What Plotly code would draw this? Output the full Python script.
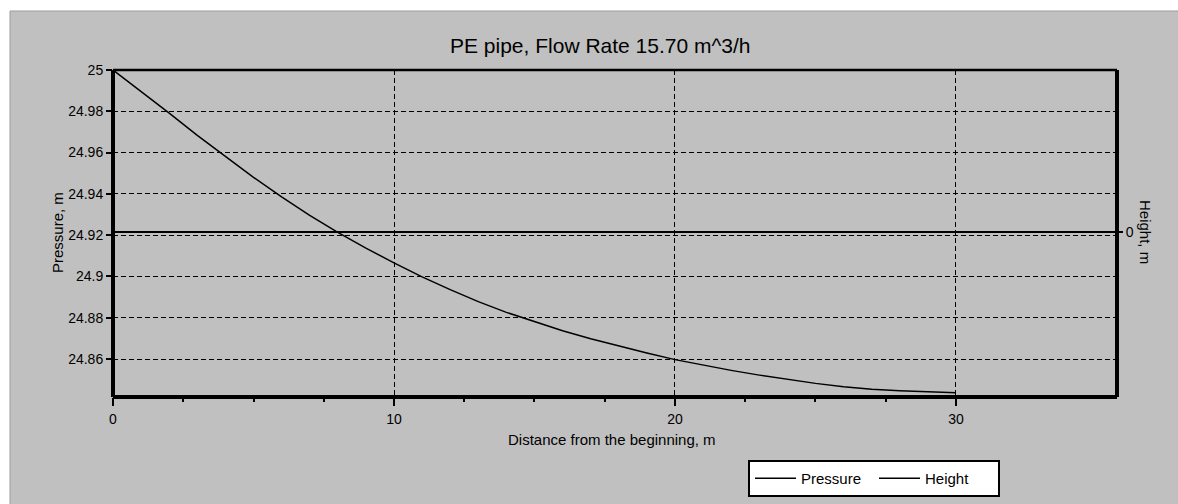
import plotly.graph_objects as go

# Pipe profile: distance along the pipe (m), pressure head (m), elevation (m)
distance = list(range(0, 31))
pressure = [
    25.0000, 24.9896, 24.9791, 24.9683, 24.9581, 24.9480, 24.9385, 24.9296,
    24.9213, 24.9137, 24.9066, 24.8998, 24.8936, 24.8878, 24.8826, 24.8780,
    24.8737, 24.8698, 24.8662, 24.8629, 24.8597, 24.8570, 24.8545, 24.8522,
    24.8501, 24.8482, 24.8466, 24.8454, 24.8446, 24.8440, 24.8436,
]
height = [0.0] * len(distance)

pressure_ticks = [24.86, 24.88, 24.90, 24.92, 24.94, 24.96, 24.98, 25.00]
pressure_ticktext = ["24.86", "24.88", "24.9", "24.92", "24.94", "24.96", "24.98", "25"]
distance_ticks = [0, 10, 20, 30]
distance_minor_ticks = [2.5, 5, 7.5, 12.5, 15, 17.5, 22.5, 25, 27.5]

title_text = "PE pipe, Flow Rate 15.70 m^3/h"
x_title = "Distance from the beginning, m"
y_title = "Pressure, m"
y2_title = "Height, m"

FONT = "Liberation Sans, Arial, sans-serif"
PANEL = "#c0c0c0"
X_RANGE = [0, 35.73]

fig = go.Figure()
fig.add_trace(go.Scatter(
    x=distance, y=pressure, name="Pressure", mode="lines",
    line=dict(color="black", width=1.5), yaxis="y",
))
fig.add_trace(go.Scatter(
    x=distance, y=height, name="Height", mode="lines",
    line=dict(color="black", width=1.5), yaxis="y2",
))
# invisible trace so the secondary x axis (short intermediate ticks) is drawn
fig.add_trace(go.Scatter(
    x=[distance[0]], y=[pressure[0]], xaxis="x2", yaxis="y",
    mode="markers", marker=dict(opacity=0), showlegend=False, hoverinfo="skip",
))

W, H = 1178, 504
L, R, T, B = 113, 61, 70, 107
pw, ph = W - L - R, H - T - B


def px_x(v):
    return (v - L) / pw


def px_y(v):
    return (H - B - v) / ph


fig.update_layout(
    width=W, height=H,
    margin=dict(l=L, r=R, t=T, b=B, pad=0, autoexpand=False),
    paper_bgcolor="white",
    plot_bgcolor=PANEL,
    font=dict(family=FONT, size=15, color="black"),
    showlegend=True,
    legend=dict(
        orientation="h",
        x=px_x(748), y=px_y(460), xanchor="left", yanchor="top",
        bgcolor="white", bordercolor="black", borderwidth=2,
        font=dict(family=FONT, size=15, color="black"),
        itemwidth=41,
        entrywidth=68, entrywidthmode="pixels",
        itemclick=False,
        tracegroupgap=0,
    ),
    xaxis=dict(
        range=X_RANGE,
        tickmode="array", tickvals=distance_ticks,
        ticks="outside", ticklen=8, tickwidth=2, tickcolor="black",
        showgrid=True, gridcolor="black", gridwidth=1, griddash="5px,3px",
        zeroline=False, showline=False,
        ticklabelstandoff=1,
        tickfont=dict(family=FONT, size=14, color="black"),
    ),
    xaxis2=dict(
        overlaying="x", side="bottom", anchor="y",
        range=X_RANGE,
        tickmode="array", tickvals=distance_minor_ticks,
        showticklabels=False,
        ticks="outside", ticklen=4, tickwidth=2, tickcolor="black",
        showgrid=False, zeroline=False, showline=False,
    ),
    yaxis=dict(
        range=[24.8416, 25.0],
        tickmode="array", tickvals=pressure_ticks, ticktext=pressure_ticktext,
        ticks="outside", ticklen=6, tickwidth=2, tickcolor="black",
        showgrid=True, gridcolor="black", gridwidth=1, griddash="5px,3px",
        zeroline=False, showline=False,
        tickfont=dict(family=FONT, size=14, color="black"),
    ),
    yaxis2=dict(
        overlaying="y", side="right",
        range=[-1.0075, 0.9925],
        tickmode="array", tickvals=[0], ticktext=["0"],
        ticks="outside", ticklen=5, tickwidth=2, tickcolor="black",
        showgrid=False, showline=False,
        zeroline=True, zerolinecolor="black", zerolinewidth=1.5,
        tickfont=dict(family=FONT, size=14, color="black"),
    ),
)

shapes = [
    # grey panel behind the chart
    dict(type="rect", xref="paper", yref="paper", layer="below",
         x0=px_x(10), x1=px_x(W + 2), y0=px_y(H + 2), y1=px_y(11),
         fillcolor=PANEL, line=dict(color="#9c9c9c", width=1)),
    # plot frame
    dict(type="line", xref="paper", yref="paper", x0=0, x1=1, y0=1, y1=1,
         line=dict(color="black", width=2.5)),
    dict(type="line", xref="paper", yref="paper", x0=0, x1=1, y0=0, y1=0,
         line=dict(color="black", width=4)),
    dict(type="line", xref="paper", yref="paper", x0=0, x1=0, y0=0, y1=1,
         line=dict(color="black", width=4)),
    dict(type="line", xref="paper", yref="paper", x0=1, x1=1, y0=0, y1=1,
         line=dict(color="black", width=4)),
]
fig.update_layout(shapes=shapes)

annotations = [
    dict(text=title_text, x=px_x(600), y=px_y(45), xref="paper", yref="paper",
         xanchor="center", yanchor="middle", showarrow=False,
         font=dict(family=FONT, size=21, color="black")),
    dict(text=x_title, x=px_x(612), y=px_y(439), xref="paper", yref="paper",
         xanchor="center", yanchor="middle", showarrow=False,
         font=dict(family=FONT, size=15, color="black")),
    dict(text=y_title, x=px_x(57), y=px_y(233), xref="paper", yref="paper",
         xanchor="center", yanchor="middle", showarrow=False, textangle=-90,
         font=dict(family=FONT, size=15, color="black")),
    dict(text=y2_title, x=px_x(1146), y=px_y(232), xref="paper", yref="paper",
         xanchor="center", yanchor="middle", showarrow=False, textangle=90,
         font=dict(family=FONT, size=15, color="black")),
]
fig.update_layout(annotations=annotations)

fig.write_html("out.html")
